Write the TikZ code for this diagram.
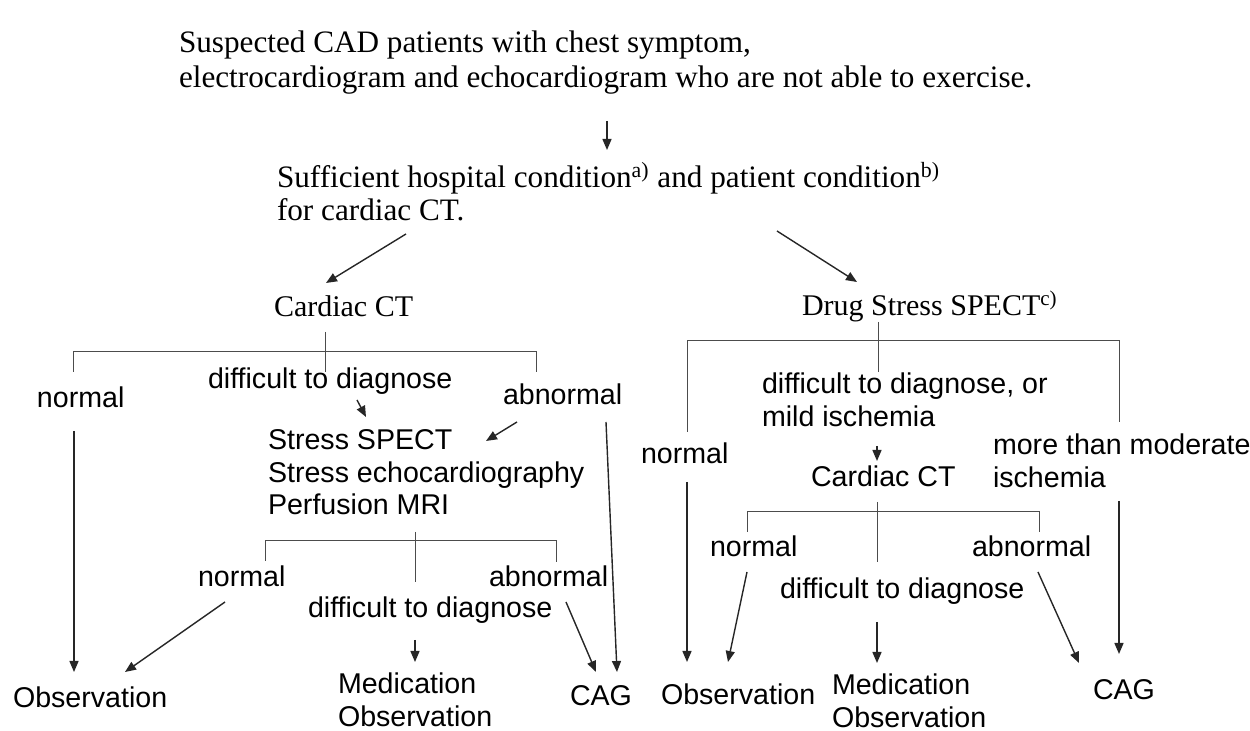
\documentclass[tikz,border=0pt]{standalone}
\usepackage{fontspec}
\setmainfont{Liberation Serif}
\setsansfont{Liberation Sans}
\usetikzlibrary{arrows.meta}
\begin{document}
\begin{tikzpicture}[x=0.5pt,y=-0.5pt,inner sep=0pt,outer sep=0pt,
serifbox/.style={anchor=north west,align=left,font=\fontsize{15pt}{17pt}\selectfont},
sansbox/.style={anchor=north west,align=left,font=\sffamily\fontsize{14.3pt}{16.25pt}\selectfont},
arr/.style={-{Triangle[length=5.5pt,width=4.5pt]},line width=0.7pt,draw=black!85},
brk/.style={line width=0.5pt,draw=black!70}]
\useasboundingbox (0,0) rectangle (1250,731);
% upper part
\node[serifbox,font=\fontsize{15.6pt}{17.5pt}\selectfont] (top) at (179,31) {Suspected CAD patients with chest symptom,\\electrocardiogram and echocardiogram who are not able to exercise.};
\node[serifbox,font=\fontsize{15.6pt}{16.5pt}\selectfont] (cond) at (277,162) {Sufficient hospital condition\textsuperscript{a)} and patient condition\textsuperscript{b)}\\for cardiac CT.};
\node[serifbox] (ct1) at (274,295.5) {Cardiac CT};
\node[serifbox] (spect) at (802,290.5) {Drug Stress SPECT\textsuperscript{c)}};
% left tree
\node[sansbox] (lnorm) at (37,387) {normal};
\node[sansbox] (ldiag) at (208,368) {difficult to diagnose};
\node[sansbox] (labn) at (503,384) {abnormal};
\node[sansbox] (stress) at (268,430) {Stress SPECT\\Stress echocardiography\\Perfusion MRI};
\node[sansbox] (lnorm2) at (198,566) {normal};
\node[sansbox] (labn2) at (489,566) {abnormal};
\node[sansbox] (ldiag2) at (308,597) {difficult to diagnose};
\node[sansbox] (lobs) at (13,687) {Observation};
\node[sansbox] (lmed) at (338,673) {Medication\\Observation};
\node[sansbox] (lcag) at (570,686) {CAG};
% right tree
\node[sansbox] (rnorm) at (641,443) {normal};
\node[sansbox] (rdiag) at (762,373) {difficult to diagnose, or\\mild ischemia};
\node[sansbox] (rmod) at (993,434) {more than moderate\\ischemia};
\node[sansbox] (rct) at (811,466) {Cardiac CT};
\node[sansbox] (rnorm2) at (710,536) {normal};
\node[sansbox] (rabn2) at (972,536) {abnormal};
\node[sansbox] (rdiag2) at (780,578) {difficult to diagnose};
\node[sansbox] (robs) at (661,684) {Observation};
\node[sansbox] (rmed) at (832,674) {Medication\\Observation};
\node[sansbox] (rcag) at (1093,680) {CAG};
% arrow ends
\coordinate (topout) at (607,121);  \coordinate (condin) at (607,150);
\coordinate (condl) at (406,234);   \coordinate (ct1in) at (326,283);
\coordinate (condr) at (777,231);   \coordinate (spectin) at (857,282);
\coordinate (lnormout) at (74,431); \coordinate (lobsin) at (74,672);
\coordinate (ldiagout) at (357,400); \coordinate (stressin) at (366,417);
\coordinate (labnout) at (517,422); \coordinate (stressin2) at (486,441);
\coordinate (labnout2) at (606,422); \coordinate (lcagin) at (617,672);
\coordinate (lnorm2out) at (225,602); \coordinate (lobsin2) at (125,672);
\coordinate (ldiag2out) at (415,640); \coordinate (lmedin) at (415,662);
\coordinate (labn2out) at (566,602); \coordinate (lcagin2) at (596,672);
\coordinate (rnormout) at (687,482); \coordinate (robsin) at (687,662);
\coordinate (rdiagout) at (877,446); \coordinate (rctin) at (877,461);
\coordinate (rmodout) at (1119,501); \coordinate (rcagin) at (1119,654);
\coordinate (rnorm2out) at (747,572); \coordinate (robsin2) at (728,662);
\coordinate (rdiag2out) at (877,622); \coordinate (rmedin) at (877,663);
\coordinate (rabn2out) at (1038,572); \coordinate (rcagin2) at (1079,663);
\draw[arr] (topout) -- (condin);
\draw[arr] (condl) -- (ct1in);
\draw[arr] (condr) -- (spectin);
\draw[arr] (lnormout) -- (lobsin);
\draw[arr] (ldiagout) -- (stressin);
\draw[arr] (labnout) -- (stressin2);
\draw[arr] (labnout2) -- (lcagin);
\draw[arr] (lnorm2out) -- (lobsin2);
\draw[arr] (ldiag2out) -- (lmedin);
\draw[arr] (labn2out) -- (lcagin2);
\draw[arr] (rnormout) -- (robsin);
\draw[arr] (rdiagout) -- (rctin);
\draw[arr] (rmodout) -- (rcagin);
\draw[arr] (rnorm2out) -- (robsin2);
\draw[arr] (rdiag2out) -- (rmedin);
\draw[arr] (rabn2out) -- (rcagin2);
% branch brackets
\draw[brk] (325,332) -- (325,372);
\draw[brk] (73,372) |- (536,352) -- (536,372);
\draw[brk] (415,532) -- (415,582);
\draw[brk] (265,561) |- (556,541) -- (556,562);
\draw[brk] (878,322) -- (878,372);
\draw[brk] (687,432) |- (1119,341) -- (1119,422);
\draw[brk] (877,502) -- (877,562);
\draw[brk] (747,532) |- (1039,512) -- (1039,532);
\end{tikzpicture}
\end{document}
